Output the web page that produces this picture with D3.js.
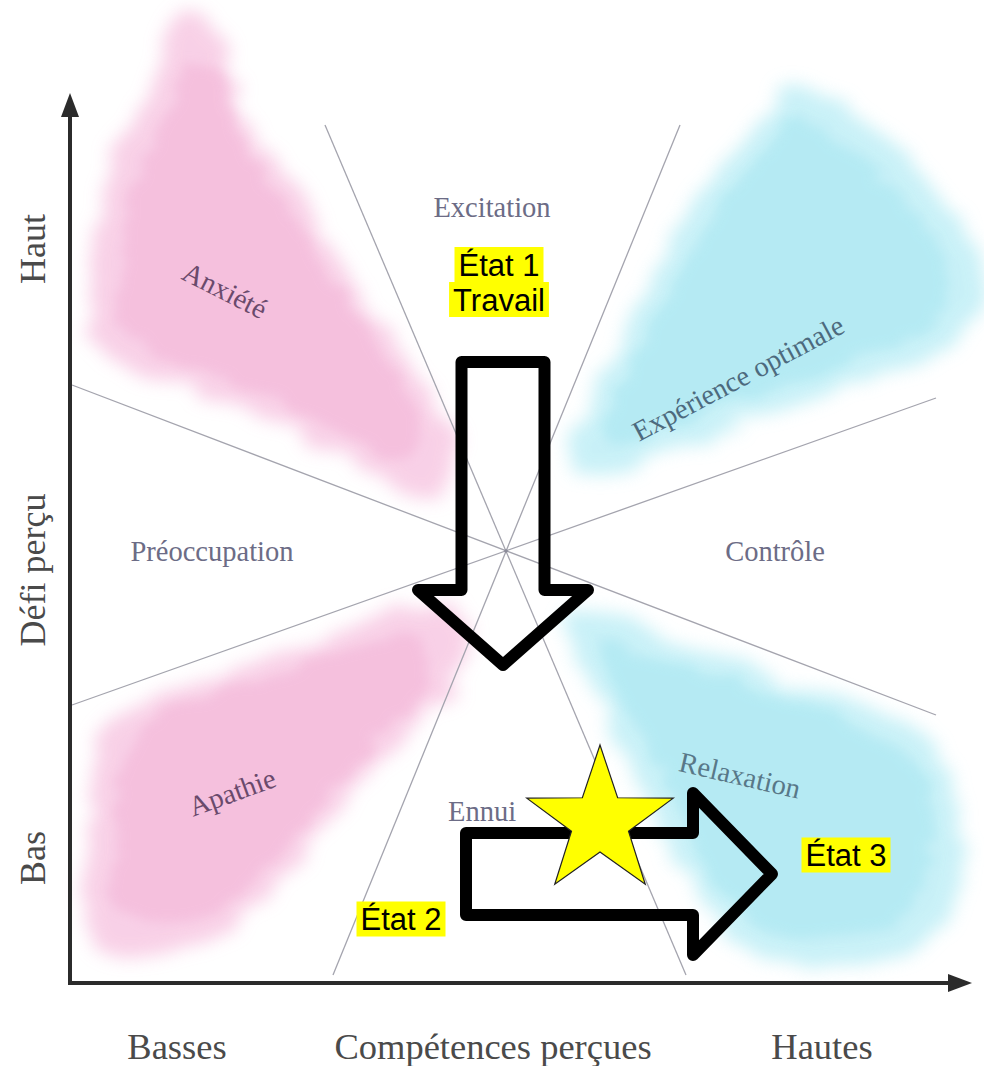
<!DOCTYPE html>
<html><head><meta charset="utf-8">
<script src="https://cdn.jsdelivr.net/npm/d3@7"></script>
<style>html,body{margin:0;padding:0;background:#fff;}svg{display:block;}</style>
</head><body>
<div id="chart"></div>
<script>
// ---- Data (units: competence on x 0..900, challenge on y 0..888) ----
const xDomain = [0, 900];
const yDomain = [0, 888];
const center = [436, 432];

// boundary lines through the centre (endpoints)
const boundaryLines = [
  [[255, 858], [616, 8]],
  [[610, 858], [263, 8]],
  [[2, 598], [866, 268]],
  [[2, 278], [866, 585]]
];

// coloured zones (outline estimate)
const zoneNames = ["Anxiété", "Apathie", "Expérience optimale", "Relaxation"];
const zoneColors = ["#f6bddd", "#f6bddd", "#b2ebf4", "#b2ebf4"];
const zoneCore   = ["#f3b3d6", "#f3b3d6", "#a6e6f1", "#a6e6f1"];
const zoneShapes = [
  [[105,968],[145,948],[170,873],[230,783],[290,693],[350,603],[388,543],[385,493],[350,486],[290,518],[190,568],[80,608],[22,648],[25,733],[35,803],[65,873],[90,923]],
  [[375,378],[400,343],[385,303],[330,243],[260,163],[190,83],[130,38],[50,28],[15,58],[18,133],[25,223],[50,268],[130,303],[250,343],[330,371]],
  [[495,513],[520,583],[570,683],[630,783],[690,863],[720,903],[780,873],[850,813],[905,733],[914,683],[880,638],[810,608],[710,573],[610,538],[530,513]],
  [[495,373],[570,353],[690,313],[810,273],[875,223],[895,133],[870,53],[800,18],[690,28],[630,83],[580,183],[530,283]]
];

// zone labels
const labelTexts  = ["Excitation","Anxiété","Expérience optimale","Préoccupation","Contrôle","Apathie","Ennui","Relaxation"];
const labelPos    = [[422,776],[155,693],[668,605],[142,432],[705,432],[162,191],[412,172],[670,208]];
const labelAngle  = [0, 27, -28, 0, 0, -20, 0, 13];
const labelColors = ["#6c6c86","#6a4a6c","#4d6a7e","#6c6c86","#6c6c86","#6a4a6c","#6c6c86","#587888"];

// axis labels
const xAxisLabels = ["Basses", "Compétences perçues", "Hautes"];
const xAxisLabelPos = [107, 423, 752];
const yAxisLabels = ["Haut", "Défi perçu", "Bas"];
const yAxisLabelPos = [734, 413, 125];

// states (highlighted annotations)
const stateLines = [["État 1", "Travail"], ["État 2"], ["État 3"]];
const statePos = [[429, 701], [331, 64], [776, 128]];

// transitions: start, end, shaft width, head width, head length
const arrowsFrom = [[433, 621], [396, 109]];
const arrowsTo   = [[433, 318], [702, 109]];
const arrowShaft = [83, 82];
const arrowHead  = [170, 162];
const arrowHeadLen = [75, 79];

// star marker
const starCenter = [530, 161];
const starRadii = [77, 30];

// ---- Drawing ----
const W = 984, H = 1066;
const x = d3.scaleLinear().domain(xDomain).range([70, 970]);
const y = d3.scaleLinear().domain(yDomain).range([983, 95]);

const svg = d3.select("#chart").append("svg").attr("width", W).attr("height", H);
const defs = svg.append("defs");
function brushFilter(id, freq, scale, blur, seed) {
  const f = defs.append("filter").attr("id", id).attr("x","-20%").attr("y","-20%").attr("width","140%").attr("height","140%");
  f.append("feTurbulence").attr("type","fractalNoise").attr("baseFrequency", freq).attr("numOctaves",2).attr("seed",seed).attr("result","n");
  f.append("feDisplacementMap").attr("in","SourceGraphic").attr("in2","n").attr("scale",scale).attr("xChannelSelector","R").attr("yChannelSelector","G").attr("result","d");
  f.append("feGaussianBlur").attr("in","d").attr("stdDeviation",blur);
}
brushFilter("brushOuter", "0.012 0.04", 34, 9, 4);
brushFilter("brushInner", "0.02 0.06", 22, 6, 9);

// zones
const lineGen = d3.line().x(d => x(d[0])).y(d => y(d[1])).curve(d3.curveCatmullRomClosed.alpha(0.5));
const zoneG = svg.append("g");
zoneG.selectAll("path.outer").data(zoneShapes).join("path").attr("class","outer")
  .attr("d", d => lineGen(d))
  .attr("fill", (d,i) => zoneColors[i])
  .attr("opacity", 0.7)
  .attr("filter", "url(#brushOuter)");
// inner core, shrunk toward the shape's centroid
zoneG.selectAll("path.inner").data(zoneShapes).join("path").attr("class","inner")
  .attr("d", d => {
    const c = d3.polygonCentroid(d);
    return lineGen(d.map(p => [c[0] + (p[0]-c[0])*0.82, c[1] + (p[1]-c[1])*0.82]));
  })
  .attr("fill", (d,i) => zoneCore[i])
  .attr("opacity", 0.55)
  .attr("filter", "url(#brushInner)");

// boundary lines
svg.append("g").selectAll("line").data(boundaryLines).join("line")
  .attr("x1", d => x(d[0][0])).attr("y1", d => y(d[0][1]))
  .attr("x2", d => x(d[1][0])).attr("y2", d => y(d[1][1]))
  .attr("stroke", "#a4a4ae").attr("stroke-width", 1.3);

svg.append("circle").attr("cx", x(center[0])).attr("cy", y(center[1])).attr("r", 1.8).attr("fill", "#8a8a98");

// zone labels
svg.append("g").selectAll("text").data(labelTexts).join("text")
  .attr("transform", (d,i) => `translate(${x(labelPos[i][0])},${y(labelPos[i][1])}) rotate(${labelAngle[i]})`)
  .attr("text-anchor", "middle").attr("dy", "0.35em")
  .attr("font-family", "'Liberation Serif', 'Times New Roman', serif")
  .attr("font-size", 28.5)
  .attr("fill", (d,i) => labelColors[i])
  .text(d => d);

// axes
const axisColor = "#2b2b2b";
svg.append("line").attr("x1", x(0)).attr("y1", y(0)).attr("x2", x(0)).attr("y2", y(yDomain[1]) + 18)
  .attr("stroke", axisColor).attr("stroke-width", 4);
svg.append("path").attr("d", `M${x(0)},${y(yDomain[1]) - 2} L${x(0)-9},${y(yDomain[1]) + 22} L${x(0)+9},${y(yDomain[1]) + 22} Z`).attr("fill", axisColor);
svg.append("line").attr("x1", x(0) - 2).attr("y1", y(0)).attr("x2", x(xDomain[1]) - 18).attr("y2", y(0))
  .attr("stroke", axisColor).attr("stroke-width", 4);
svg.append("path").attr("d", `M${x(xDomain[1]) + 2},${y(0)} L${x(xDomain[1]) - 22},${y(0)-9} L${x(xDomain[1]) - 22},${y(0)+9} Z`).attr("fill", axisColor);

const serif = "'Liberation Serif', 'Times New Roman', serif";
svg.append("g").selectAll("text").data(xAxisLabels).join("text")
  .attr("x", (d,i) => x(xAxisLabelPos[i])).attr("y", 1059)
  .attr("text-anchor", "middle").attr("font-family", serif).attr("font-size", 36.5).attr("fill", "#4a4a4a")
  .text(d => d);
svg.append("g").selectAll("text").data(yAxisLabels).join("text")
  .attr("transform", (d,i) => `translate(45,${y(yAxisLabelPos[i])}) rotate(-90)`)
  .attr("text-anchor", "middle").attr("font-family", serif).attr("font-size", 36).attr("fill", "#4a4a4a")
  .text(d => d);

// arrows
function arrowPath(p0, p1, sw, hw, hl) {
  const a = [x(p0[0]), y(p0[1])], b = [x(p1[0]), y(p1[1])];
  const dx = b[0]-a[0], dy = b[1]-a[1], L = Math.hypot(dx, dy);
  const ux = dx/L, uy = dy/L, nx = -uy, ny = ux;
  const hb = [b[0]-ux*hl, b[1]-uy*hl];
  const pts = [
    [a[0]+nx*sw/2, a[1]+ny*sw/2],
    [hb[0]+nx*sw/2, hb[1]+ny*sw/2],
    [hb[0]+nx*hw/2, hb[1]+ny*hw/2],
    b,
    [hb[0]-nx*hw/2, hb[1]-ny*hw/2],
    [hb[0]-nx*sw/2, hb[1]-ny*sw/2],
    [a[0]-nx*sw/2, a[1]-ny*sw/2]
  ];
  return "M" + pts.map(p => p.join(",")).join("L") + "Z";
}
svg.append("g").selectAll("path").data(arrowsFrom).join("path")
  .attr("d", (d,i) => arrowPath(d, arrowsTo[i], arrowShaft[i], arrowHead[i], arrowHeadLen[i]))
  .attr("fill", "none").attr("stroke", "#000").attr("stroke-width", 12).attr("stroke-linejoin", "round");

// star
const starPts = d3.range(10).map(k => {
  const r = k % 2 === 0 ? starRadii[0] : starRadii[1];
  const ang = -Math.PI/2 + k * Math.PI/5;
  return [x(starCenter[0]) + r*Math.cos(ang), y(starCenter[1]) + r*Math.sin(ang)];
});
svg.append("path").attr("d", "M" + starPts.map(p => p.join(",")).join("L") + "Z")
  .attr("fill", "#ffff00").attr("stroke", "#222").attr("stroke-width", 1.2).attr("stroke-linejoin", "miter");

// state labels
const sans = "'Liberation Sans', Arial, sans-serif";
const lineH = 35;
stateLines.forEach((lines, i) => {
  const g = svg.append("g");
  const cx = x(statePos[i][0]), cy = y(statePos[i][1]);
  const top = cy - lines.length * lineH / 2;
  lines.forEach((t, j) => {
    const txt = g.append("text")
      .attr("x", cx).attr("y", top + j*lineH + lineH/2).attr("dy", "0.36em")
      .attr("text-anchor", "middle").attr("font-family", sans).attr("font-size", 31).attr("fill", "#000")
      .text(t);
    const bb = txt.node().getBBox();
    g.insert("rect", "text")
      .attr("x", bb.x - 4).attr("y", top + j*lineH).attr("width", bb.width + 8).attr("height", lineH)
      .attr("fill", "#ffff00");
  });
});
</script>
</body></html>
